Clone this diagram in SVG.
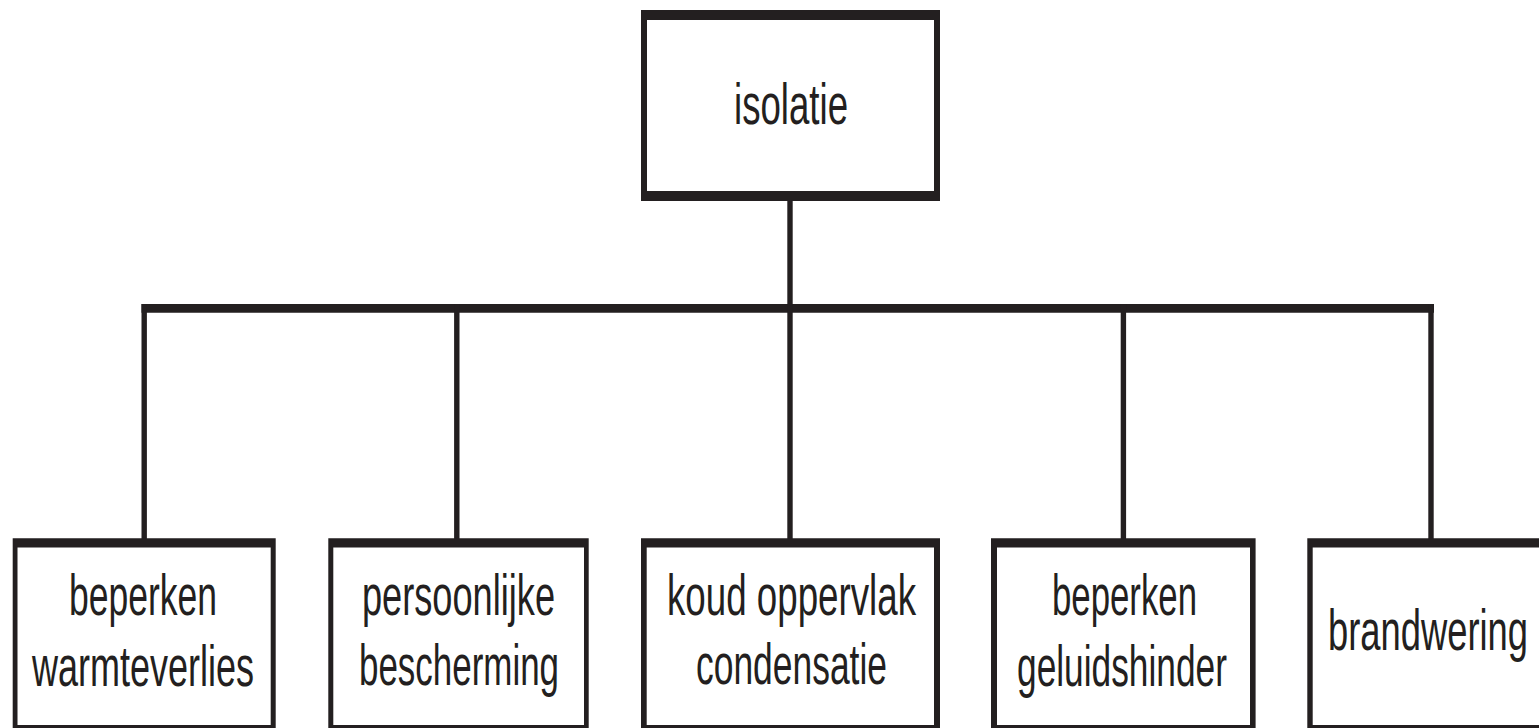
<svg xmlns="http://www.w3.org/2000/svg" width="1539" height="728" viewBox="0 0 1539 728">
  <style>
    .frame { fill: #231f20; fill-rule: evenodd; stroke: none; }
    .h { stroke: #231f20; stroke-width: 8.7; fill: none; stroke-linecap: butt; }
    .v { stroke: #231f20; stroke-width: 5.4; fill: none; stroke-linecap: butt; }
    .lbl { font-family: "Liberation Sans", Arial, sans-serif; font-size: 57px; fill: #231f20; }
  </style>
  <rect x="0" y="0" width="1539" height="728" fill="#ffffff"/>
  <g id="connectors">
    <line class="v" x1="790" y1="200" x2="790" y2="305"/>
    <line class="h" x1="141.5" y1="308.4" x2="1434" y2="308.4"/>
    <line class="v" x1="144.2" y1="304" x2="144.2" y2="539"/>
    <line class="v" x1="456.8" y1="304" x2="456.8" y2="539"/>
    <line class="v" x1="790" y1="304" x2="790" y2="539"/>
    <line class="v" x1="1123.4" y1="304" x2="1123.4" y2="539"/>
    <line class="v" x1="1431" y1="304" x2="1431" y2="539"/>
  </g>
  <g id="node-isolatie">
    <path class="frame" d="M641 10H940V201H641Z M647 20V191H934V20Z"/>
    <text class="lbl" x="734" y="123.5" textLength="114" lengthAdjust="spacingAndGlyphs">isolatie</text>
  </g>
  <g id="node-warmteverlies">
    <path class="frame" d="M12.7 538.3H275.7V735H12.7Z M17.5 547.6V725H270.7V547.6Z"/>
    <text class="lbl" x="69" y="615" textLength="148" lengthAdjust="spacingAndGlyphs">beperken</text>
    <text class="lbl" x="32" y="686" textLength="222" lengthAdjust="spacingAndGlyphs">warmteverlies</text>
  </g>
  <g id="node-bescherming">
    <path class="frame" d="M328.3 538.3H588.7V735H328.3Z M333.3 547.6V725H584V547.6Z"/>
    <text class="lbl" x="362" y="615" textLength="193" lengthAdjust="spacingAndGlyphs">persoonlijke</text>
    <text class="lbl" x="359" y="685" textLength="200" lengthAdjust="spacingAndGlyphs">bescherming</text>
  </g>
  <g id="node-condensatie">
    <path class="frame" d="M641 538.3H940V735H641Z M646.7 547.6V725H934V547.6Z"/>
    <text class="lbl" x="667" y="615" textLength="249" lengthAdjust="spacingAndGlyphs">koud oppervlak</text>
    <text class="lbl" x="696" y="684" textLength="191" lengthAdjust="spacingAndGlyphs">condensatie</text>
  </g>
  <g id="node-geluidshinder">
    <path class="frame" d="M991 538.3H1255.6V735H991Z M997 547.6V725H1250V547.6Z"/>
    <text class="lbl" x="1052" y="615" textLength="145" lengthAdjust="spacingAndGlyphs">beperken</text>
    <text class="lbl" x="1017" y="686" textLength="210" lengthAdjust="spacingAndGlyphs">geluidshinder</text>
  </g>
  <g id="node-brandwering">
    <path class="frame" d="M1307.3 538.3H1560V735H1307.3Z M1312.7 547.6V725H1560V547.6Z"/>
    <text class="lbl" x="1328" y="650" textLength="200" lengthAdjust="spacingAndGlyphs">brandwering</text>
  </g>
</svg>
